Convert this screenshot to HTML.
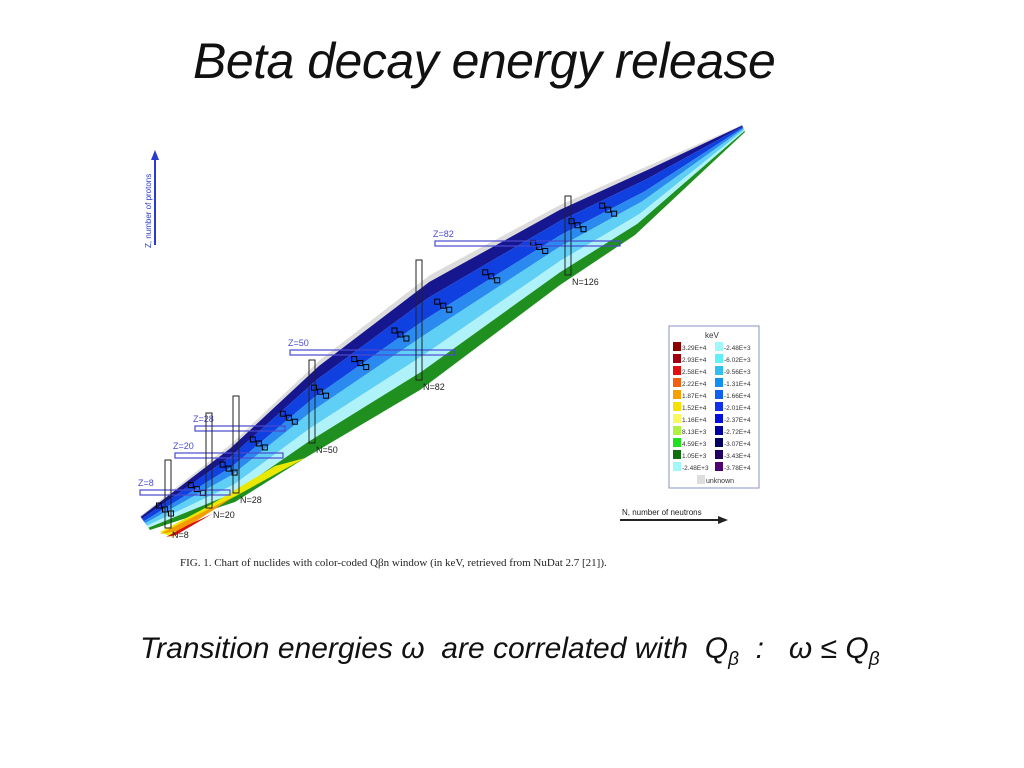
<!DOCTYPE html>
<html><head><meta charset="utf-8"><style>
body{margin:0;background:#fff;width:1024px;height:768px;overflow:hidden;position:relative;font-family:"Liberation Sans",sans-serif}
.t{position:absolute;font-style:italic;color:#111;white-space:nowrap}
</style></head><body>
<div class="t" style="left:193px;top:32px;font-size:50px;letter-spacing:-0.5px">Beta decay energy release</div>
<svg id="c" width="1024" height="768" style="position:absolute;left:0;top:0"></svg>
<div class="t" style="left:140px;top:632px;font-size:30px;">Transition energies ω&nbsp; are correlated with&nbsp; Q<sub style="font-size:19px">β</sub>&nbsp; :&nbsp;&nbsp; ω ≤ Q<sub style="font-size:19px">β</sub></div>
<script>
const NS="http://www.w3.org/2000/svg";
const svg=document.getElementById('c');
function mk(t,a,p){const e=document.createElementNS(NS,t);for(const k in a)e.setAttribute(k,a[k]);(p||svg).appendChild(e);return e;}
const topEdge=[[140,516],[230,445],[320,360],[430,275],[560,205],[650,165],[742,125]];
const botEdge=[[150,530],[235,502],[305,458],[420,390],[560,285],[635,235],[745,132]];
const bandFracs=[0,0.06,0.2,0.38,0.52,0.7,0.84,1];
const bandColors=["#dcdcdc","#16168f","#1040e0","#2a8af0","#60cff5","#b0f2fa","#1f8f1f"];
function lerp(a,b,f){return [a[0]+(b[0]-a[0])*f,a[1]+(b[1]-a[1])*f];}
function edge(f){return topEdge.map((p,i)=>lerp(p,botEdge[i],f));}
function along(poly,s){const n=poly.length-1;const u=Math.min(s*n,n-1e-6);const i=Math.floor(u);return lerp(poly[i],poly[i+1],u-i);}
for(let i=0;i<bandColors.length;i++){
  const a=edge(bandFracs[i]),b=edge(bandFracs[i+1]).reverse();
  const p=mk('polygon',{points:a.concat(b).map(q=>q.join(',')).join(' '),fill:bandColors[i]});
  
  
}
const warm=[["#e8e800","160,532 205,508 275,466 305,458 225,502 172,537"],["#f59a00","160,534 195,516 235,496 182,530"],["#d81010","166,537 188,525 212,514 176,535"]];
warm.forEach(w=>{const p=mk('polygon',{points:w[1],fill:w[0]});});
const stableS=[0.04,0.1,0.16,0.22,0.28,0.34,0.4,0.46,0.52,0.58,0.64,0.7,0.76];
const mid=edge(0.33);
stableS.forEach(s=>{const p=along(mid,s);
 for(let k=0;k<3;k++){const r=mk('rect',{x:p[0]-8+k*6,y:p[1]+k*4-4,width:5,height:5,fill:'none',stroke:'#000','stroke-width':1});}});
const magicZ=[["Z=8",140,230,492],["Z=20",175,283,455],["Z=28",195,285,428],["Z=50",290,455,352],["Z=82",435,620,243]];
magicZ.forEach(m=>{const r=mk('rect',{x:m[1],y:m[3]-2,width:m[2]-m[1],height:5,fill:'none',stroke:'#4a4ad0','stroke-width':1.2});
 const t=mk('text',{x:m[1]-2,y:m[3]-6,'font-size':9,fill:'#4a4ad0'});t.textContent=m[0];});
const magicN=[["N=8",168,460,528],["N=20",209,413,508],["N=28",236,396,493],["N=50",312,360,443],["N=82",419,260,380],["N=126",568,196,275]];
magicN.forEach(m=>{const r=mk('rect',{x:m[1]-3,y:m[2],width:6,height:m[3]-m[2],fill:'none',stroke:'#222','stroke-width':1});
 const t=mk('text',{x:m[1]+4,y:m[3]+10,'font-size':9,fill:'#222'});t.textContent=m[0];});
let e=mk('line',{x1:155,y1:245,x2:155,y2:158,stroke:'#2a3ad0','stroke-width':2});
e=mk('polygon',{points:'151,160 159,160 155,150',fill:'#2a3ad0'});
e=mk('text',{x:0,y:0,'font-size':8,fill:'#2a3ad0',transform:'translate(151,248) rotate(-90)'});e.textContent='Z, number of protons';
e=mk('line',{x1:620,y1:520,x2:720,y2:520,stroke:'#222','stroke-width':2});
e=mk('polygon',{points:'718,516 718,524 728,520',fill:'#222'});
e=mk('text',{x:622,y:515,'font-size':8,fill:'#222'});e.textContent='N, number of neutrons';
const legLeftVals=["3.29E+4","2.93E+4","2.58E+4","2.22E+4","1.87E+4","1.52E+4","1.16E+4","8.13E+3","4.59E+3","1.05E+3","-2.48E+3"];
const legLeftCols=["#8b0000","#a00010","#e01010","#f06010","#f5a000","#f5e000","#f8f860","#b0f040","#20e020","#107010","#a0f8f8"];
const legRightVals=["-2.48E+3","-6.02E+3","-9.56E+3","-1.31E+4","-1.66E+4","-2.01E+4","-2.37E+4","-2.72E+4","-3.07E+4","-3.43E+4","-3.78E+4"];
const legRightCols=["#a0f8f8","#60f0f8","#30c0f0","#1090f0","#1060f0","#1030f0","#0010e0","#0000a0","#000060","#200060","#500070"];
e=mk('rect',{x:669,y:326,width:90,height:162,fill:'#fff',stroke:'#8890c0','stroke-width':1});
e=mk('text',{x:705,y:338,'font-size':8,fill:'#333'});e.textContent='keV';
legLeftVals.forEach((v,i)=>{const y=342+i*12;
 let r=mk('rect',{x:673,y:y,width:8,height:9,fill:legLeftCols[i]});
 let t=mk('text',{x:682,y:y+8,'font-size':6.5,fill:'#333'});t.textContent=v;});
legRightVals.forEach((v,i)=>{const y=342+i*12;
 let r=mk('rect',{x:715,y:y,width:8,height:9,fill:legRightCols[i]});
 let t=mk('text',{x:724,y:y+8,'font-size':6.5,fill:'#333'});t.textContent=v;});
e=mk('rect',{x:697,y:475,width:8,height:9,fill:'#ddd'});
e=mk('text',{x:706,y:483,'font-size':7,fill:'#333'});e.textContent='unknown';
e=mk('text',{x:180,y:566,'font-size':11,fill:'#222','font-family':'Liberation Serif, serif'});e.textContent='FIG. 1.  Chart of nuclides with color-coded Q\u03B2n window (in keV, retrieved from NuDat 2.7 [21]).';
</script>
</body></html>
